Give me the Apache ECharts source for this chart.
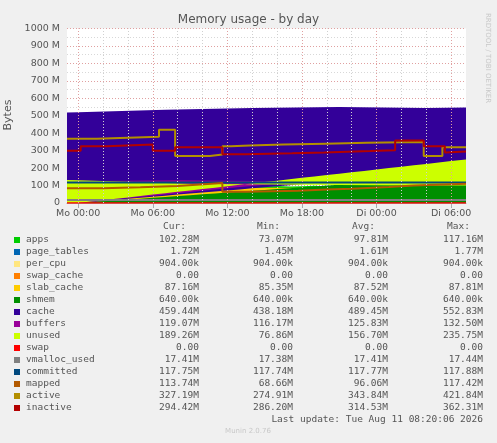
<!DOCTYPE html>
<html><head><meta charset="utf-8">
<script src="https://cdn.jsdelivr.net/npm/echarts@6/dist/echarts.min.js"></script>
<style>html,body{margin:0;padding:0;background:#f0f0f0}#c{width:497px;height:443px}</style>
</head><body><div id="c"></div>
<script>
var hours=[-0.9,0,1,2,3,4,5,6,7,7.7,7.8,8,9,10,11,12,13,14,15,16,17,18,19,20,21,22,23,24,25,25.5,25.6,26,27,27.7,27.8,28,29,30,31.2];
var apps=[88,90,92,93,91,94,92,95,93,96,94,92,95,97,93,96,94,98,95,97,94,96,99,95,97,100,96,98,95,97,99,96,98,95,97,100,96,99,102];
var pageTables=[1.5,1.5,1.5,1.6,1.6,1.6,1.6,1.6,1.6,1.6,1.6,1.6,1.6,1.6,1.6,1.6,1.6,1.6,1.6,1.6,1.6,1.6,1.6,1.6,1.6,1.6,1.6,1.6,1.7,1.7,1.7,1.7,1.7,1.7,1.7,1.7,1.7,1.7,1.7];
var perCpu=[0.9,0.9,0.9,0.9,0.9,0.9,0.9,0.9,0.9,0.9,0.9,0.9,0.9,0.9,0.9,0.9,0.9,0.9,0.9,0.9,0.9,0.9,0.9,0.9,0.9,0.9,0.9,0.9,0.9,0.9,0.9,0.9,0.9,0.9,0.9,0.9,0.9,0.9,0.9];
var swapCache=[0,0,0,0,0,0,0,0,0,0,0,0,0,0,0,0,0,0,0,0,0,0,0,0,0,0,0,0,0,0,0,0,0,0,0,0,0,0,0];
var slab=[88,87,86,88,87,86,88,87,86,88,87,88,86,87,88,87,86,88,87,86,88,87,86,88,87,88,86,87,88,87,86,88,87,86,88,87,86,88,87];
var shmem=[0.6,0.6,0.6,0.6,0.6,0.6,0.6,0.6,0.6,0.6,0.6,0.6,0.6,0.6,0.6,0.6,0.6,0.6,0.6,0.6,0.6,0.6,0.6,0.6,0.6,0.6,0.6,0.6,0.6,0.6,0.6,0.6,0.6,0.6,0.6,0.6,0.6,0.6,0.6];
var cache=[515,520,535,545,550,545,550,540,550,555,435,440,445,450,455,455,460,455,465,460,465,463,470,465,473,480,480,485,495,495,537,540,543,545,440,445,455,460,465];
var buffers=[120,125,130,125,125,128,127,130,130,130,120,120,120,120,120,128,125,128,125,132,130,132,130,132,130,132,132,132,130,132,132,130,128,130,120,118,116,116,119];
var unused=[140,130,110,105,100,102,98,105,95,90,220,215,210,205,200,192,190,192,185,183,180,180,175,178,172,163,163,158,150,148,106,105,104,100,215,212,204,199,191];
var vmalloc=[[-0.9,17.4],[31.2,17.4]];
var committed=[[-0.9,117.8],[31.2,117.8]];
var mapped=[[-0.9,85],[2,85],[2,90],[5,90],[5,98],[8,98],[8,105],[11.6,115],[11.6,65],[13.5,65],[13.5,70],[17.7,70],[17.7,77],[20,77],[20,82],[22,82],[22,90],[25,92],[27,100],[31.2,110]];
var active=[[-0.9,368],[1.5,368],[1.5,378],[6.5,380],[6.5,420],[7.8,420],[7.8,270],[10.6,270],[10.6,278],[11.6,278],[11.6,325],[12.3,325],[12.3,330],[13.8,330],[13.8,335],[16.5,335],[16.5,340],[19.9,340],[19.9,345],[23.2,345],[23.2,350],[27.8,350],[27.8,270],[29.3,270],[29.3,320],[31.2,320]];
var inactive=[[-0.9,300],[0.2,300],[0.2,325],[2.3,325],[2.3,335],[6,335],[6,300],[7.8,300],[7.8,320],[11.6,320],[11.6,280],[13.5,280],[13.5,285],[17.2,285],[17.2,290],[19.8,290],[19.8,298],[23.5,298],[23.5,303],[25.5,303],[25.5,358],[27.8,358],[27.8,325],[29.5,325],[29.5,290],[31.2,295]];
var xTickValues=[0,6,12,18,24,30];
var xTickLabels=['Mo 00:00','Mo 06:00','Mo 12:00','Mo 18:00','Di 00:00','Di 06:00'];
var legNames=['apps','page_tables','per_cpu','swap_cache','slab_cache','shmem','cache','buffers','unused','swap','vmalloc_used','committed','mapped','active','inactive'];
var legColors=['#00CC00','#0066B3','#FFE680','#FF8000','#FFCC00','#008F00','#330099','#990099','#CCFF00','#FF0000','#808080','#00487D','#B35A00','#B38F00','#B30000'];
var legCur=['102.28M','1.72M','904.00k','0.00','87.16M','640.00k','459.44M','119.07M','189.26M','0.00','17.41M','117.75M','113.74M','327.19M','294.42M'];
var legMin=['73.07M','1.45M','904.00k','0.00','85.35M','640.00k','438.18M','116.17M','76.86M','0.00','17.38M','117.74M','68.66M','274.91M','286.20M'];
var legAvg=['97.81M','1.61M','904.00k','0.00','87.52M','640.00k','489.45M','125.83M','156.70M','0.00','17.41M','117.77M','96.06M','343.84M','314.53M'];
var legMax=['117.16M','1.77M','904.00k','0.00','87.81M','640.00k','552.83M','132.50M','235.75M','0.00','17.44M','117.88M','117.42M','421.84M','362.31M'];

function pairs(v){return hours.map(function(h,i){return [h,v[i]];});}
var areaVals=[apps,pageTables,perCpu,swapCache,slab,shmem,cache,buffers,unused];
var series=[];
areaVals.forEach(function(v,i){
  series.push({type:'line',name:legNames[i],stack:'mem',data:pairs(v),showSymbol:false,
    lineStyle:{width:0},areaStyle:{color:legColors[i],opacity:1},itemStyle:{color:legColors[i]},z:2});
});
var majors=[], minors=[];
for(var h=0;h<=30;h+=6) majors.push({xAxis:h});
for(var h=-0;h<=31;h+=2){ if(h%6) minors.push({xAxis:h}); }
series.push({type:'line',name:'swap',data:[[-0.9,0],[31.2,0]],showSymbol:false,lineStyle:{width:1.5,color:'#FF0000'},z:3});
series.push({type:'line',name:'vmalloc_used',data:vmalloc,showSymbol:false,lineStyle:{width:2,color:'#808080'},z:3});
series.push({type:'line',name:'committed',data:committed,showSymbol:false,lineStyle:{width:2,color:'#00487D'},z:3});
series.push({type:'line',name:'mapped',data:mapped,showSymbol:false,lineStyle:{width:2,color:'#B35A00'},z:3});
series.push({type:'line',name:'active',data:active,showSymbol:false,lineStyle:{width:2,color:'#B38F00'},z:3});
series.push({type:'line',name:'inactive',data:inactive,showSymbol:false,lineStyle:{width:2,color:'#B30000'},z:3,
  markLine:{silent:true,symbol:'none',label:{show:false},animation:false,
    data:majors.map(function(m){return Object.assign({lineStyle:{color:'#e0a0a0',type:[1,2],width:1}},m);})
      .concat(minors.map(function(m){return Object.assign({lineStyle:{color:'#d0d0d0',type:[1,2],width:1}},m);}))}});

var graphic=[];
var mono='DejaVu Sans Mono';
[['Cur:',186],['Min:',280],['Avg:',375],['Max:',470]].forEach(function(h){
  graphic.push({type:'text',left:null,x:h[1],y:222,style:{text:h[0],font:'9.5px '+mono,fill:'#555',align:'right'}});
});
legNames.forEach(function(n,i){
  var y=235+i*12;
  graphic.push({type:'rect',shape:{x:14,y:y+2,width:6,height:6},style:{fill:legColors[i]}});
  graphic.push({type:'text',x:26,y:y,style:{text:n,font:'9.5px '+mono,fill:'#555'}});
  [[legCur,199],[legMin,293],[legAvg,388],[legMax,483]].forEach(function(c){
    graphic.push({type:'text',x:c[1],y:y,style:{text:c[0][i],font:'9.5px '+mono,fill:'#555',align:'right'}});
  });
});
graphic.push({type:'text',x:483,y:415,style:{text:'Last update: Tue Aug 11 08:20:06 2026',font:'9.5px '+mono,fill:'#555',align:'right'}});
graphic.push({type:'text',x:248,y:428,style:{text:'Munin 2.0.76',font:'7px DejaVu Sans',fill:'#c8c8c8',align:'center'}});
graphic.push({type:'text',x:8,y:115,rotation:Math.PI/2,style:{text:'Bytes',font:'11px DejaVu Sans',fill:'#555',align:'center',verticalAlign:'middle'}});
graphic.push({type:'text',x:488,y:58,rotation:-Math.PI/2,style:{text:'RRDTOOL / TOBI OETIKER',font:'7px DejaVu Sans',fill:'#c8c8c8',align:'center',verticalAlign:'middle'}});

var chart=echarts.init(document.getElementById('c'),null,{renderer:'canvas'});
chart.setOption({
  backgroundColor:'#f0f0f0',animation:false,
  title:{text:'Memory usage - by day',left:'center',top:9,textStyle:{fontFamily:'DejaVu Sans',fontSize:12,fontWeight:'normal',color:'#555'}},
  grid:{left:67,right:31,top:28.5,bottom:240,show:true,backgroundColor:'#fff',borderWidth:0},
  xAxis:{type:'value',min:-0.9,max:31.2,
    axisLine:{lineStyle:{color:'#aaa'}},axisTick:{show:true,customValues:xTickValues,lineStyle:{color:'#aaa'}},
    splitLine:{show:false},
    axisLabel:{customValues:xTickValues,formatter:function(v){return xTickLabels[xTickValues.indexOf(v)]||'';},fontFamily:'DejaVu Sans',fontSize:9.5,color:'#555',margin:6}},
  yAxis:{type:'value',min:0,max:1000,interval:100,
    axisLine:{show:false},axisTick:{show:false},
    axisLabel:{formatter:function(v){return v===0?'0':v+' M';},fontFamily:'DejaVu Sans',fontSize:9.5,color:'#555',margin:7},
    splitLine:{show:true,lineStyle:{color:'#e0a0a0',type:[1,2]}},
    minorTick:{show:false,splitNumber:2},
    minorSplitLine:{show:true,lineStyle:{color:'#d8d8d8',type:[1,2]}}},
  series:series,
  graphic:graphic
});
</script></body></html>
